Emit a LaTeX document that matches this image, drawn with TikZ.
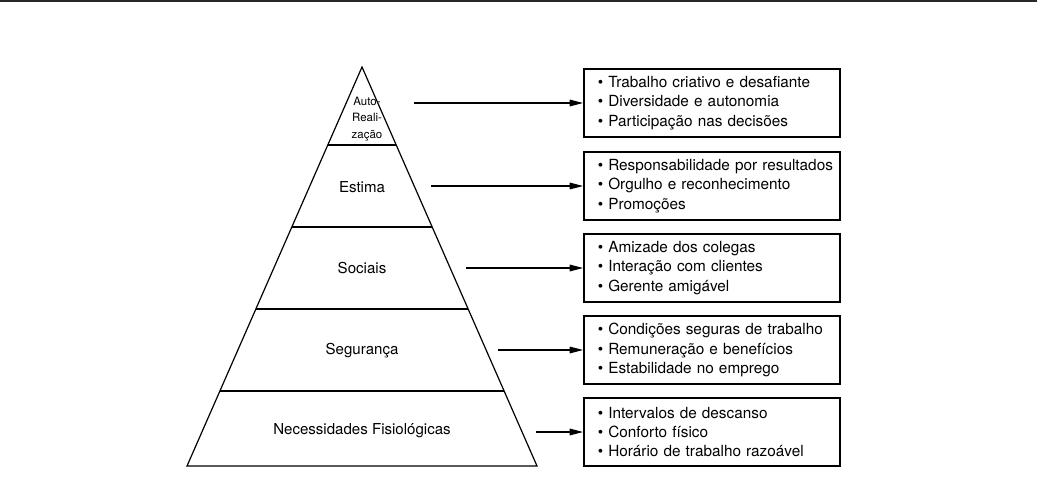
\documentclass[tikz,border=0pt]{standalone}
\usepackage{fontspec}
\setmainfont{TeX Gyre Heros}
\usetikzlibrary{arrows.meta}

\tikzset{every picture/.style={line width=0.9pt}}
\tikzset{
  level/.style={inner sep=0.75pt, font=\fontsize{11.3}{14}\selectfont},
  toplevel/.style={inner sep=0.75pt, align=center, font=\fontsize{8.6}{12.2}\selectfont},
  listbox/.style={draw, line width=1.2pt, anchor=west, minimum width=192pt, minimum height=51pt,
    text width=184pt, inner xsep=4pt, align=left, font=\fontsize{11.5}{14.6}\selectfont},
  link/.style={-{Triangle[length=10pt,width=5pt]}, line width=0.8pt}
}
\newcommand{\itm}[1]{\hspace*{6.5pt}\textbullet\ #1}

\begin{document}
\begin{tikzpicture}[x=0.75pt,y=0.75pt,yscale=-1,xscale=1]
\useasboundingbox (0,0) rectangle (1037,491);

%Straight Lines: page rule
\draw [line width=1.5pt, color={rgb, 255:red, 40; green, 40; blue, 40}] (0,1) -- (1037,1) ;

%Shape: Triangle
\draw   (187,466) -- (362,67) -- (537,466) -- cycle ;
%Straight Lines: levels
\draw    (327.8,145) -- (396.2,145) ;
\draw    (291.8,227) -- (432.2,227) ;
\draw    (255.9,309) -- (468.1,309) ;
\draw    (219.9,391) -- (504.1,391) ;

% Text Node
\node [toplevel] (auto) at (367,119) {Auto-\\Reali-\\zação};
% Text Node
\node [level] (estima) at (362,187) {Estima};
% Text Node
\node [level] (sociais) at (362,268) {Sociais};
% Text Node
\node [level] (seguranca) at (362,351) {Segurança};
% Text Node
\node [level] (fisio) at (362,431) {Necessidades Fisiológicas};

% Boxes
\node [listbox] (boxauto) at (583,103) {\itm{Trabalho criativo e desafiante}\\\itm{Diversidade e autonomia}\\\itm{Participação nas decisões}};
\node [listbox] (boxestima) at (583,186) {\itm{Responsabilidade por resultados}\\\itm{Orgulho e reconhecimento}\\\itm{Promoções}};
\node [listbox] (boxsociais) at (583,268) {\itm{Amizade dos colegas}\\\itm{Interação com clientes}\\\itm{Gerente amigável}};
\node [listbox] (boxseguranca) at (583,350) {\itm{Condições seguras de trabalho}\\\itm{Remuneração e benefícios}\\\itm{Estabilidade no emprego}};
\node [listbox] (boxfisio) at (583,432) {\itm{Intervalos de descanso}\\\itm{Conforto físico}\\\itm{Horário de trabalho razoável}};

% Arrows
\coordinate (fromauto) at (414,103);
\coordinate (fromestima) at (431,186);
\coordinate (fromsociais) at (466,268);
\coordinate (fromseguranca) at (498,350);
\coordinate (fromfisio) at (536,432);
\draw [link] (fromauto) -- (boxauto.west) ;
\draw [link] (fromestima) -- (boxestima.west) ;
\draw [link] (fromsociais) -- (boxsociais.west) ;
\draw [link] (fromseguranca) -- (boxseguranca.west) ;
\draw [link] (fromfisio) -- (boxfisio.west) ;

\end{tikzpicture}
\end{document}
